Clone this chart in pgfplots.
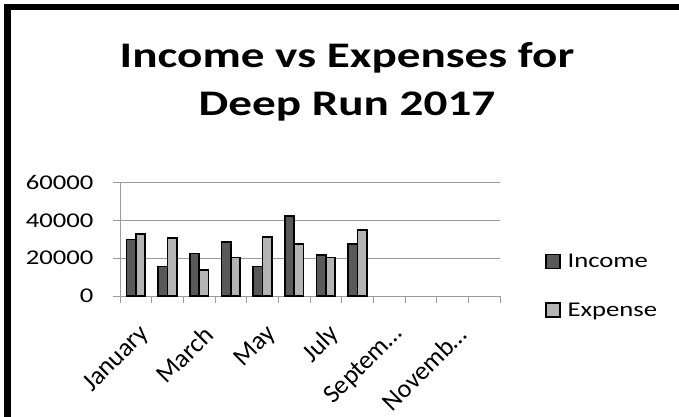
\documentclass[border=0pt]{standalone}
\usepackage{fontspec}
\setmainfont{Carlito}[FakeStretch=1.27]
\newfontfamily\titlefont{Carlito}[FakeStretch=1.31]
\newfontfamily\plainfont{Carlito}
\usepackage{pgfplots}
\pgfplotsset{compat=1.18}

\definecolor{inc}{RGB}{89,89,89}
\definecolor{expc}{RGB}{180,180,180}
\definecolor{gridc}{RGB}{155,155,155}
\newcommand{\xl}[1]{{\plainfont\fontsize{26bp}{28bp}\selectfont #1}}

\begin{document}
\begin{tikzpicture}
\useasboundingbox (0,0) rectangle (679bp,417bp);
\fill[white] (0,0) rectangle (679bp,417bp);
\draw[line width=6.5bp, line join=miter] (7.7bp,-5bp) -- (7.7bp,410bp) -- (690bp,410bp);
\node[anchor=base, inner sep=0pt, font=\titlefont\fontsize{36bp}{40bp}\selectfont\bfseries] at (347bp,349.7bp) {Income vs Expenses for};
\node[anchor=base, inner sep=0pt, font=\titlefont\fontsize{36bp}{40bp}\selectfont\bfseries] at (347bp,301bp) {Deep Run 2017};
\begin{axis}[
  at={(120bp,121bp)}, anchor=south west,
  scale only axis, width=380bp, height=113.4bp,
  xmin=-0.5, xmax=11.5, ymin=0, ymax=60000,
  ybar=0pt, bar width=9.3bp,
  axis lines*=left,
  axis line style={gridc, line width=1bp},
  ytick={0,20000,40000,60000},
  scaled y ticks=false,
  ymajorgrids, grid style={gridc, line width=1bp},
  tick align=outside, major tick length=7bp,
  tick style={gridc, line width=1bp},
  yticklabel style={font=\fontsize{21bp}{24bp}\selectfont, xshift=-16bp},
  yticklabel={\pgfmathprintnumber[assume math mode=true,1000 sep={}]{\tick}},
  xtick={-0.5,0.5,...,11.5}, xticklabels={},
  extra x ticks={0,2,4,6,8,10},
  extra x tick labels={\xl{January},\xl{March},\xl{May},\xl{July},\xl{Septem\ldots},\xl{Novemb\ldots}},
  extra x tick style={major tick length=0pt, xticklabel style={rotate=45, anchor=east, xshift=-14bp, yshift=-31bp}},
  legend style={at={(1.118,0.373)}, anchor=north west, draw=none, fill=none, inner sep=0pt,
    font=\fontsize{21bp}{24bp}\selectfont, row sep=33bp, legend cell align=left,
    nodes={inner sep=0pt, outer sep=0pt}},
  clip=false,
]
\addplot[fill=inc, draw=black, line width=1.5bp,
  legend image code/.code={\draw[fill=inc, draw=black, line width=1.5bp] (0bp,-7bp) rectangle (14bp,7bp);}]
  coordinates {(0,30000) (1,15700) (2,22400) (3,28600) (4,15700) (5,42200) (6,21700) (7,27400)};
\addlegendentry{\hspace{7bp}Income}
\addplot[fill=expc, draw=black, line width=1.5bp,
  legend image code/.code={\draw[fill=expc, draw=black, line width=1.5bp] (0bp,-7bp) rectangle (14bp,7bp);}]
  coordinates {(0,32700) (1,30700) (2,13800) (3,20300) (4,31200) (5,27400) (6,20300) (7,34800)};
\addlegendentry{\hspace{7bp}Expense}
\end{axis}
\end{tikzpicture}
\end{document}
